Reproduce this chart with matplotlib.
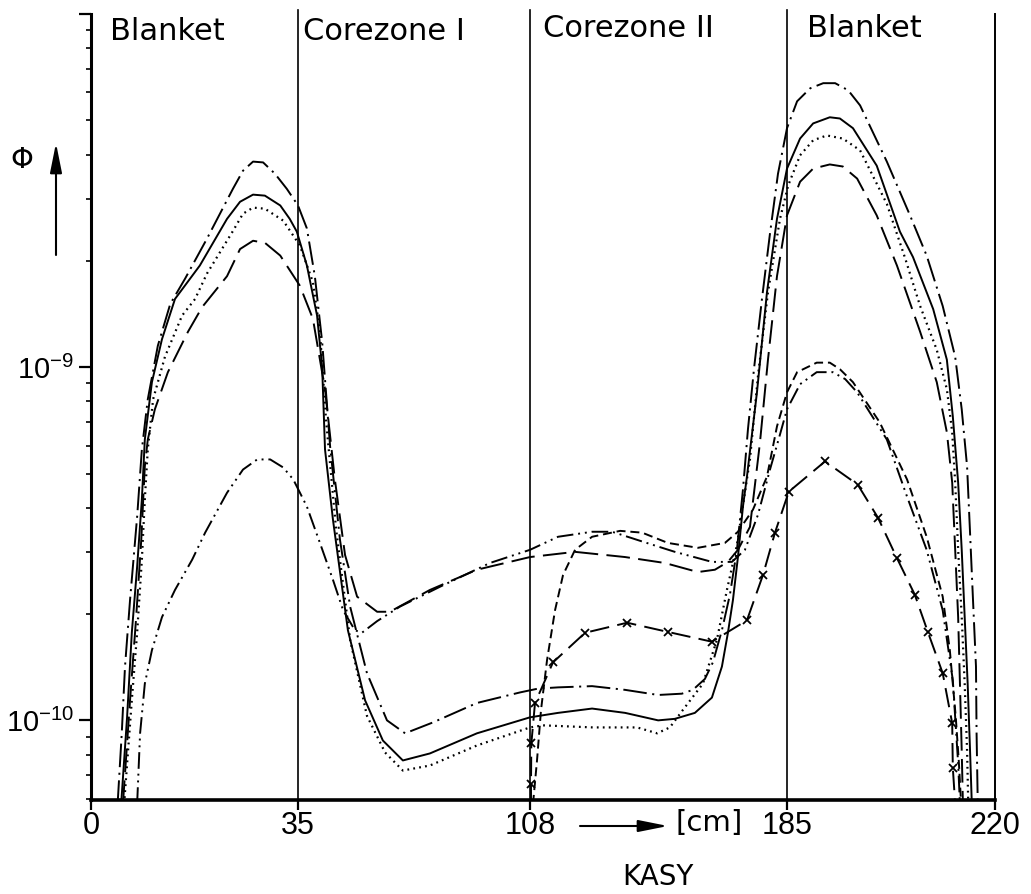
import numpy as np
import matplotlib
matplotlib.use("Agg")
import matplotlib.pyplot as plt
from matplotlib.ticker import FixedLocator, LogLocator, NullFormatter, NullLocator

plt.rcParams["font.family"] = "DejaVu Sans"
plt.rcParams["mathtext.fontset"] = "custom"
plt.rcParams["mathtext.rm"] = "Liberation Sans"
plt.rcParams["mathtext.it"] = "Liberation Sans:italic"
plt.rcParams["mathtext.bf"] = "Liberation Sans:bold"
plt.rcParams["lines.scale_dashes"] = False

# zone boundaries along the radius [cm] and zone names
zone_edges = [0, 35, 108, 185, 220]
zone_names = ["Blanket", "Corezone I", "Corezone II", "Blanket"]

# flux curves: r [cm], phi
dashdot_r = [4.5, 5.2, 5.75, 6.6, 7.8, 8.6, 9.6, 11.3, 13.4, 15.9, 19.6, 24.0, 25.7, 27.4, 29.1,
             31.1, 33.1, 35.0, 37.8, 40.3, 42.6, 45.1, 48.2, 51.4, 56.7, 63.0, 68.7, 77.5, 91.3,
             104.9, 110.4, 116.4, 126.6, 136.5, 146.4, 153.5, 156.8, 160.4, 162.8, 165.5, 167.9,
             170.0, 171.8, 173.3, 175.1, 177.5, 179.9, 182.3, 185.0, 186.7, 188.9, 191.1, 193.1,
             195.3, 197.3, 201.8, 205.7, 208.5, 211.2, 213.3, 214.4, 215.3, 215.8, 216.3, 216.8,
             216.9, 217.1]
dashdot_phi = [5.8e-11, 9.19e-11, 1.42e-10, 2.19e-10, 3.77e-10, 5.85e-10, 8.11e-10, 1.15e-9,
               1.51e-9, 1.78e-9, 2.31e-9, 3.20e-9, 3.60e-9, 3.82e-9, 3.80e-9, 3.53e-9, 3.20e-9,
               2.87e-9, 2.47e-9, 1.81e-9, 1.18e-9, 5.97e-10, 3.25e-10, 2.10e-10, 1.36e-10,
               1.00e-10, 9.19e-11, 9.87e-11, 1.12e-10, 1.20e-10, 1.23e-10, 1.24e-10, 1.25e-10,
               1.22e-10, 1.18e-10, 1.19e-10, 1.22e-10, 1.31e-10, 1.46e-10, 1.80e-10, 2.27e-10,
               3.04e-10, 4.50e-10, 6.67e-10, 9.87e-10, 1.56e-9, 2.39e-9, 3.53e-9, 4.75e-9,
               5.66e-9, 6.16e-9, 6.37e-9, 6.37e-9, 6.08e-9, 5.51e-9, 3.82e-9, 2.69e-9, 2.07e-9,
               1.49e-9, 1.07e-9, 7.60e-10, 5.24e-10, 3.40e-10, 2.19e-10, 1.42e-10, 9.19e-11,
               5.8e-11]

solid_r = [5.1, 6.1, 6.9, 7.8, 8.6, 9.1, 10.3, 12.0, 14.2, 18.4, 23.0, 25.2, 27.4, 29.4, 32.0,
           33.6, 34.8, 37.8, 41.0, 42.6, 43.5, 46.0, 50.7, 56.1, 61.7, 68.0, 76.5, 91.3, 108.0,
           116.4, 126.6, 136.5, 146.4, 151.4, 157.4, 162.5, 165.5, 167.3, 168.8, 170.3, 171.8,
           173.0, 176.0, 179.0, 182.0, 185.0, 187.2, 189.4, 192.2, 193.9, 196.1, 200.1, 204.0,
           206.2, 209.6, 211.9, 212.9, 213.8, 214.4, 214.9, 215.4, 215.8, 216.1]
solid_phi = [5.8e-11, 1.02e-10, 1.77e-10, 2.72e-10, 4.22e-10, 6.24e-10, 9.07e-10, 1.20e-9,
             1.56e-9, 1.94e-9, 2.63e-9, 2.94e-9, 3.08e-9, 3.06e-9, 2.87e-9, 2.63e-9, 2.42e-9,
             1.94e-9, 1.40e-9, 1.00e-9, 5.85e-10, 3.70e-10, 1.80e-10, 1.14e-10, 8.77e-11,
             7.70e-11, 8.06e-11, 9.19e-11, 1.02e-10, 1.05e-10, 1.08e-10, 1.05e-10, 1.00e-10,
             1.01e-10, 1.05e-10, 1.16e-10, 1.42e-10, 1.77e-10, 2.19e-10, 2.90e-10, 4.03e-10,
             4.90e-10, 8.49e-10, 1.63e-9, 2.63e-9, 3.65e-9, 4.44e-9, 4.90e-9, 5.10e-9, 5.06e-9,
             4.75e-9, 3.72e-9, 2.42e-9, 2.05e-9, 1.46e-9, 1.05e-9, 7.26e-10, 4.71e-10, 3.04e-10,
             1.96e-10, 1.27e-10, 8.22e-11, 5.8e-11]

dotted_r = [5.6, 6.9, 7.8, 8.6, 9.1, 9.6, 10.5, 12.5, 15.4, 17.6, 19.6, 24.0, 25.7, 27.4, 29.4,
            32.5, 35.6, 39.7, 41.9, 43.8, 47.0, 51.4, 56.7, 62.4, 68.0, 76.5, 91.3, 108.0, 111.9,
            126.9, 140.1, 146.1, 149.9, 153.8, 159.8, 164.0, 167.0, 170.0, 173.9, 176.3, 179.3,
            182.9, 185.2, 187.2, 189.4, 191.7, 194.4, 197.3, 201.8, 204.9, 207.4, 210.2, 211.9,
            212.8, 213.3, 213.8, 214.4, 214.9, 215.3, 215.5]
dotted_phi = [5.8e-11, 1.14e-10, 1.77e-10, 2.85e-10, 4.22e-10, 5.85e-10, 8.11e-10, 1.07e-9,
              1.40e-9, 1.56e-9, 1.84e-9, 2.43e-9, 2.72e-9, 2.83e-9, 2.81e-9, 2.60e-9, 2.21e-9,
              1.74e-9, 1.26e-9, 7.12e-10, 3.47e-10, 1.69e-10, 1.03e-10, 8.11e-11, 7.21e-11,
              7.45e-11, 8.49e-11, 9.55e-11, 9.68e-11, 9.55e-11, 9.55e-11, 9.19e-11, 9.55e-11,
              1.07e-10, 1.27e-10, 1.69e-10, 2.34e-10, 3.14e-10, 5.48e-10, 9.43e-10, 1.63e-9,
              2.63e-9, 3.27e-9, 3.98e-9, 4.39e-9, 4.53e-9, 4.44e-9, 4.11e-9, 2.90e-9, 2.03e-9,
              1.49e-9, 1.12e-9, 8.66e-10, 6.54e-10, 4.71e-10, 3.04e-10, 1.96e-10, 1.27e-10,
              8.22e-11, 5.8e-11]

longdash_r = [5.4, 6.6, 7.6, 8.5, 9.1, 9.6, 10.8, 13.0, 16.4, 18.8, 23.0, 25.2, 27.4, 29.4, 32.0,
              35.6, 39.7, 43.5, 46.6, 49.8, 53.6, 59.9, 63.9, 76.5, 91.3, 108.0, 121.5, 136.5,
              148.4, 158.3, 163.4, 167.3, 170.3, 173.9, 176.9, 179.3, 182.0, 185.0, 187.2, 189.4,
              192.2, 194.4, 196.8, 200.1, 203.5, 207.4, 210.2, 211.9, 212.8, 213.3, 213.8, 214.1,
              214.4, 214.6]
longdash_phi = [5.8e-11, 1.14e-10, 1.92e-10, 3.25e-10, 5.24e-10, 6.24e-10, 7.60e-10, 9.68e-10,
                1.26e-9, 1.48e-9, 1.81e-9, 2.16e-9, 2.28e-9, 2.25e-9, 2.07e-9, 1.70e-9, 1.37e-9,
                8.66e-10, 4.81e-10, 2.94e-10, 2.24e-10, 2.03e-10, 2.03e-10, 2.34e-10, 2.67e-10,
                2.90e-10, 3.00e-10, 2.90e-10, 2.79e-10, 2.63e-10, 2.67e-10, 2.81e-10, 3.04e-10,
                3.53e-10, 6.12e-10, 1.05e-9, 1.81e-9, 2.69e-9, 3.35e-9, 3.65e-9, 3.75e-9, 3.70e-9,
                3.42e-9, 2.69e-9, 1.94e-9, 1.26e-9, 9.07e-10, 6.54e-10, 4.71e-10, 3.04e-10,
                1.96e-10, 1.27e-10, 8.22e-11, 5.8e-11]

dashdotdot_r = [7.8, 8.3, 9.1, 10.3, 12.0, 14.2, 17.1, 19.3, 23.0, 25.7, 28.1, 30.3, 32.5, 34.2,
                37.8, 41.9, 46.0, 49.2, 52.9, 55.1, 59.9, 67.1, 79.7, 95.4, 108.0, 116.4, 126.6,
                132.6, 141.6, 151.4, 162.5, 168.5, 172.4, 176.3, 179.9, 182.9, 185.0, 187.2,
                190.0, 192.7, 194.8, 196.8, 201.8, 205.2, 208.5, 211.2, 212.9, 213.8, 214.1]
dashdotdot_phi = [5.8e-11, 9.19e-11, 1.27e-10, 1.58e-10, 1.96e-10, 2.34e-10, 2.85e-10, 3.40e-10,
                  4.41e-10, 5.13e-10, 5.48e-10, 5.48e-10, 5.20e-10, 4.81e-10, 4.03e-10, 3.18e-10,
                  2.50e-10, 2.05e-10, 1.80e-10, 1.77e-10, 1.91e-10, 2.10e-10, 2.39e-10, 2.79e-10,
                  3.04e-10, 3.31e-10, 3.42e-10, 3.42e-10, 3.21e-10, 3.00e-10, 2.81e-10, 2.81e-10,
                  3.04e-10, 3.82e-10, 5.13e-10, 6.45e-10, 7.60e-10, 8.95e-10, 9.68e-10, 9.68e-10,
                  9.25e-10, 8.49e-10, 6.24e-10, 4.30e-10, 3.04e-10, 2.05e-10, 1.30e-10, 7.55e-11,
                  5.8e-11]

shortdash_r = [108.9, 110.1, 111.3, 113.1, 115.5, 117.9, 121.5, 126.6, 135.0, 141.6, 149.3, 158.3,
               166.4, 170.3, 174.8, 179.0, 182.0, 185.0, 186.7, 190.0, 192.2, 193.9, 196.1, 200.6,
               205.2, 208.5, 211.2, 212.4, 213.4, 213.9, 214.3]
shortdash_phi = [5.8e-11, 7.70e-11, 1.07e-10, 1.48e-10, 2.05e-10, 2.58e-10, 3.04e-10, 3.31e-10,
                 3.44e-10, 3.40e-10, 3.18e-10, 3.08e-10, 3.18e-10, 3.42e-10, 3.95e-10, 4.90e-10,
                 6.80e-10, 8.49e-10, 9.68e-10, 1.03e-9, 1.03e-9, 9.87e-10, 9.07e-10, 6.98e-10,
                 4.81e-10, 3.31e-10, 2.24e-10, 1.58e-10, 1.02e-10, 7.70e-11, 5.8e-11]

# curve with x markers (first and last point are the ends of the line)
cross_r = [108.3, 108.3, 108.4, 109.5, 114.9, 124.5, 137.1, 149.3, 162.5, 173.0, 177.8, 181.4,
           185.3, 191.4, 196.9, 200.3, 203.5, 206.5, 208.7, 211.2, 212.8, 212.9, 213.3]
cross_phi = [5.8e-11, 6.62e-11, 8.60e-11, 1.12e-10, 1.46e-10, 1.77e-10, 1.89e-10, 1.78e-10,
             1.67e-10, 1.92e-10, 2.58e-10, 3.40e-10, 4.44e-10, 5.41e-10, 4.65e-10, 3.75e-10,
             2.88e-10, 2.27e-10, 1.78e-10, 1.36e-10, 9.81e-11, 7.35e-11, 5.8e-11]

# the original axis stretches the blankets: drawn length of each zone boundary
zone_draw = [0, 207, 439, 696, 904]


def forward(r):
    return np.interp(r, zone_edges, zone_draw)


def inverse(p):
    return np.interp(p, zone_draw, zone_edges)


W, H = 1031, 894
fig = plt.figure(figsize=(W / 100, H / 100), dpi=100)
ax = fig.add_axes([91 / W, 94 / H, 904 / W, 786 / H])

ax.set_xscale("function", functions=(forward, inverse))
ax.set_yscale("log")
ax.set_xlim(0, 220)
ax.set_ylim(5.95e-11, 1e-8)

lw = 1.4
ax.plot(dashdot_r, dashdot_phi, color="k", lw=lw, ls=(0, (17, 4, 1.5, 4)))
ax.plot(solid_r, solid_phi, color="k", lw=lw, ls="-")
ax.plot(dotted_r, dotted_phi, color="k", lw=1.6, ls=(0, (1.3, 3)))
ax.plot(longdash_r, longdash_phi, color="k", lw=lw, ls=(0, (17, 6)))
ax.plot(dashdotdot_r, dashdotdot_phi, color="k", lw=lw, ls=(0, (12, 3.5, 1.4, 3.5, 1.4, 3.5)))
ax.plot(shortdash_r, shortdash_phi, color="k", lw=lw, ls=(0, (6.5, 3.5)))
ax.plot(cross_r, cross_phi, color="k", lw=lw, ls=(0, (14, 6)),
        marker="x", ms=6, mew=1.3, markevery=slice(1, -1))

# zone boundaries
for edge in zone_edges[1:-1]:
    ax.axvline(edge, ymin=0, ymax=1.005, color="k", lw=1.2, clip_on=False)

ax.spines["top"].set_visible(False)
ax.spines["left"].set_linewidth(2.2)
ax.spines["bottom"].set_linewidth(2.6)
ax.spines["right"].set_linewidth(1.4)

ax.set_xticks(zone_edges)
ax.set_xticklabels([str(e) for e in zone_edges])
ax.xaxis.set_minor_locator(NullLocator())
ax.tick_params(axis="x", direction="out", length=7, width=1.6, labelsize=22, pad=1)

ax.yaxis.set_major_locator(FixedLocator([1e-10, 1e-9, 1e-8]))
ax.set_yticklabels([r"$10^{-10}$", r"$10^{-9}$", ""])
ax.yaxis.set_minor_locator(LogLocator(base=10, subs=np.arange(2, 10)))
ax.yaxis.set_minor_formatter(NullFormatter())
ax.tick_params(axis="y", which="major", direction="out", length=9, width=1.6, labelsize=21, pad=3)
ax.tick_params(axis="y", which="minor", direction="out", length=3.5, width=1.2)
for lbl in ax.get_xticklabels():
    lbl.set_family("Liberation Sans")

# zone names along the top
name_pos = [(110, 40), (303, 40), (543, 37), (807, 37)]
for name, (px, py) in zip(zone_names, name_pos):
    fig.text(px / W, 1 - py / H, name, ha="left", va="baseline", fontsize=22)

# axis annotations
fig.text(22 / W, 1 - 160 / H, "Φ", ha="center", va="center", fontsize=21)
ax.annotate("", xy=(56 / W, 1 - 143 / H), xytext=(56 / W, 1 - 255 / H),
            xycoords="figure fraction", textcoords="figure fraction",
            arrowprops=dict(arrowstyle="-|>,head_length=0.9,head_width=0.18", color="k",
                            lw=1.5, mutation_scale=20, shrinkA=0, shrinkB=0))
ax.annotate("", xy=(668 / W, 1 - 826 / H), xytext=(580 / W, 1 - 826 / H),
            xycoords="figure fraction", textcoords="figure fraction",
            arrowprops=dict(arrowstyle="-|>,head_length=0.9,head_width=0.18", color="k",
                            lw=1.5, mutation_scale=20, shrinkA=0, shrinkB=0))
fig.text(676 / W, 1 - 823 / H, "[cm]", ha="left", va="center", fontsize=21)
fig.text(658 / W, 1 - 877 / H, "KASY", ha="center", va="center", fontsize=20)

fig.savefig("out.png", dpi=100)
